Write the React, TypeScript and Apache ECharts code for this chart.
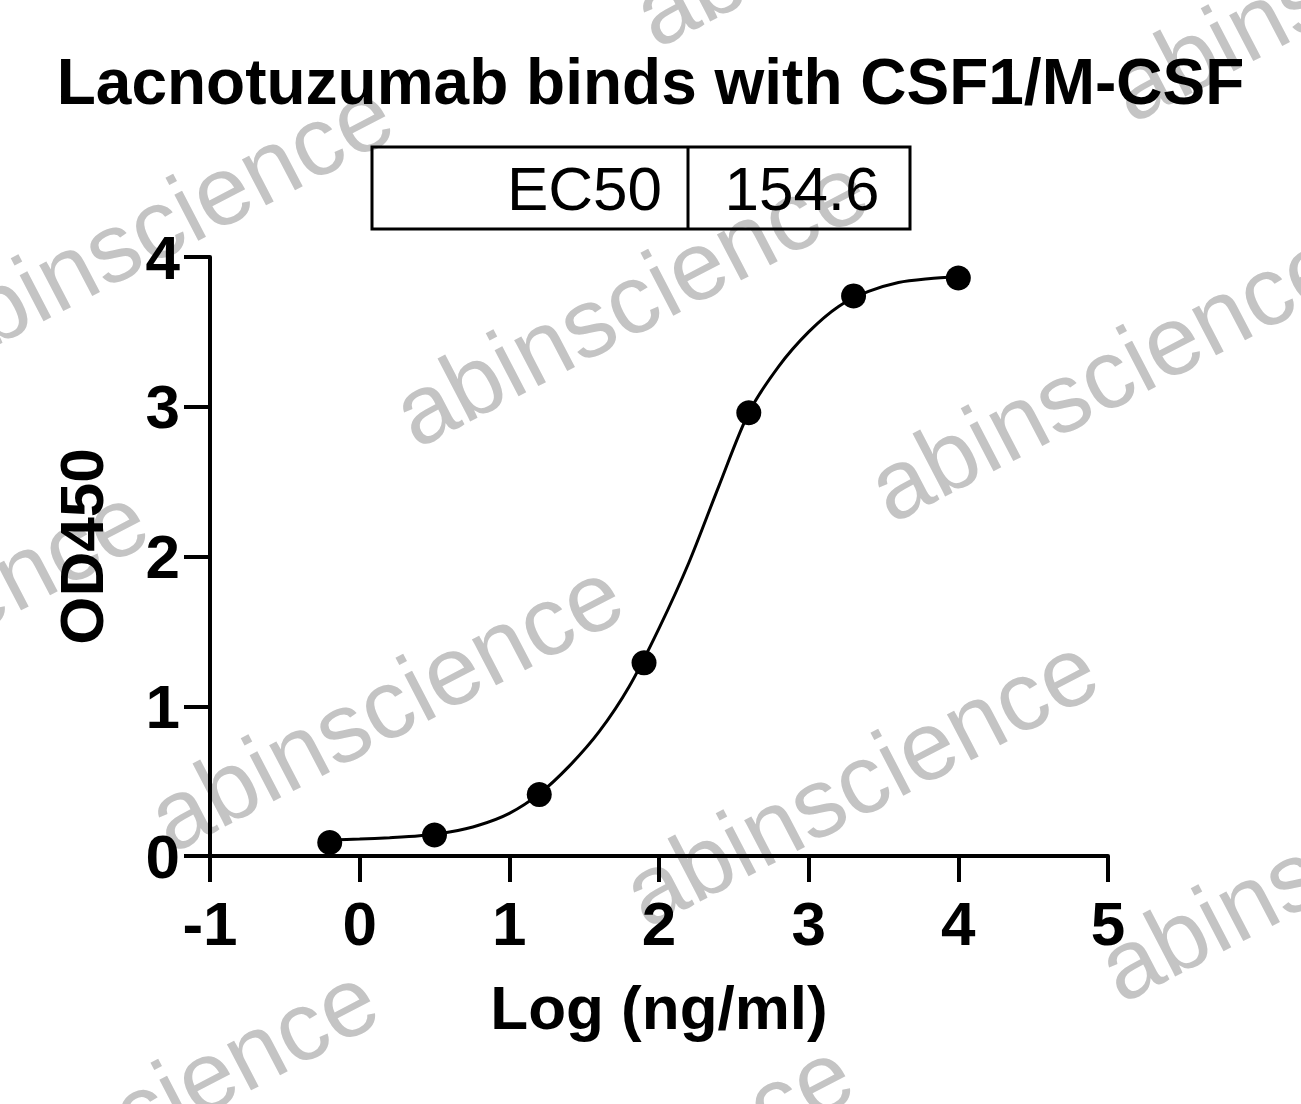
import React, { useEffect, useRef } from "react";
import * as echarts from "echarts";

// Measured points: Log(ng/ml) vs OD450
const pointX = [-0.2, 0.5, 1.2, 1.9, 2.6, 3.3, 4.0];
const pointY = [0.09, 0.14, 0.41, 1.29, 2.96, 3.74, 3.86];

// Fitted curve, every 0.2 log units
const curveX = [-0.2, 0.0, 0.2, 0.4, 0.6, 0.8, 1.0, 1.2, 1.4, 1.6, 1.8, 2.0, 2.2, 2.4, 2.6, 2.8, 3.0, 3.2, 3.4, 3.6, 3.8, 4.0];
const curveY = [0.107, 0.113, 0.122, 0.135, 0.16, 0.207, 0.285, 0.415, 0.6, 0.83, 1.13, 1.52, 1.96, 2.47, 2.96, 3.27, 3.5, 3.67, 3.77, 3.83, 3.855, 3.868];

const titleText = "Lacnotuzumab binds with CSF1/M-CSF";
const ec50Label = "EC50";
const ec50Value = "154.6";
const xAxisTitle = "Log (ng/ml)";
const yAxisTitle = "OD450";
const watermarkText = "abinscience";

const watermarkCenters: [number, number][] = [
  [155, 225], [630, 300], [1105, 375], [385, 705], [860, 780], [1335, 855],
  [140, 1110], [615, 1185], [870, -100], [1345, -25], [-90, 630],
];

const FONT = "'Liberation Sans', Arial, Helvetica, sans-serif";

export default function App() {
  const ref = useRef<HTMLDivElement>(null);
  useEffect(() => {
    if (!ref.current) return;
    const chart = echarts.init(ref.current, null, { renderer: "svg" });
    const watermarks = watermarkCenters.map(([x, y]) => ({
      type: "text",
      x,
      y,
      rotation: 0.48,
      z: -10,
      silent: true,
      style: {
        text: watermarkText,
        fontSize: 98,
        fontFamily: FONT,
        fill: "#c4c4c4",
        align: "center",
        verticalAlign: "middle",
      },
    }));
    chart.setOption({
      animation: false,
      backgroundColor: "#ffffff",
      title: {
        text: titleText,
        left: "center",
        top: 45,
        textStyle: { fontSize: 64, fontWeight: "bold", color: "#000", fontFamily: FONT },
      },
      grid: { left: 210, right: 193, top: 257, bottom: 248, containLabel: false },
      xAxis: {
        type: "value",
        min: -1,
        max: 5,
        interval: 1,
        name: xAxisTitle,
        nameLocation: "middle",
        nameGap: 120,
        nameTextStyle: { fontSize: 62, fontWeight: "bold", color: "#000", fontFamily: FONT },
        axisLine: { onZero: false, lineStyle: { color: "#000", width: 4 } },
        axisTick: { length: 26, lineStyle: { color: "#000", width: 4 } },
        axisLabel: { fontSize: 62, fontWeight: "bold", color: "#000", fontFamily: FONT, margin: 36 },
        splitLine: { show: false },
      },
      yAxis: {
        type: "value",
        min: 0,
        max: 4,
        interval: 1,
        name: yAxisTitle,
        nameLocation: "middle",
        nameGap: 98,
        nameTextStyle: { fontSize: 62, fontWeight: "bold", color: "#000", fontFamily: FONT, padding: [0, 0, 0, 20] },
        axisLine: { show: true, onZero: false, lineStyle: { color: "#000", width: 4 } },
        axisTick: { show: true, length: 26, lineStyle: { color: "#000", width: 4 } },
        axisLabel: { fontSize: 62, fontWeight: "bold", color: "#000", fontFamily: FONT, margin: 30 },
        splitLine: { show: false },
      },
      series: [
        {
          type: "line",
          data: curveX.map((x, i) => [x, curveY[i]]),
          showSymbol: false,
          smooth: 0.3,
          lineStyle: { color: "#000", width: 3 },
          z: 2,
          silent: true,
        },
        {
          type: "scatter",
          data: pointX.map((x, i) => [x, pointY[i]]),
          symbol: "circle",
          symbolSize: 25,
          itemStyle: { color: "#000", opacity: 1 },
          z: 3,
        },
      ],
      graphic: [
        ...watermarks,
        {
          type: "rect",
          shape: { x: 372, y: 147, width: 538, height: 82 },
          style: { fill: "none", stroke: "#000", lineWidth: 3 },
        },
        {
          type: "line",
          shape: { x1: 688, y1: 147, x2: 688, y2: 229 },
          style: { stroke: "#000", lineWidth: 3 },
        },
        {
          type: "text",
          x: 662,
          y: 188,
          style: { text: ec50Label, fontSize: 62, fontFamily: FONT, fill: "#000", align: "right", verticalAlign: "middle" },
        },
        {
          type: "text",
          x: 802,
          y: 188,
          style: { text: ec50Value, fontSize: 62, fontFamily: FONT, fill: "#000", align: "center", verticalAlign: "middle" },
        },
      ],
    });
    return () => chart.dispose();
  }, []);
  return <div ref={ref} style={{ position: "fixed", left: 0, top: 0, width: 1301, height: 1104 }} />;
}
